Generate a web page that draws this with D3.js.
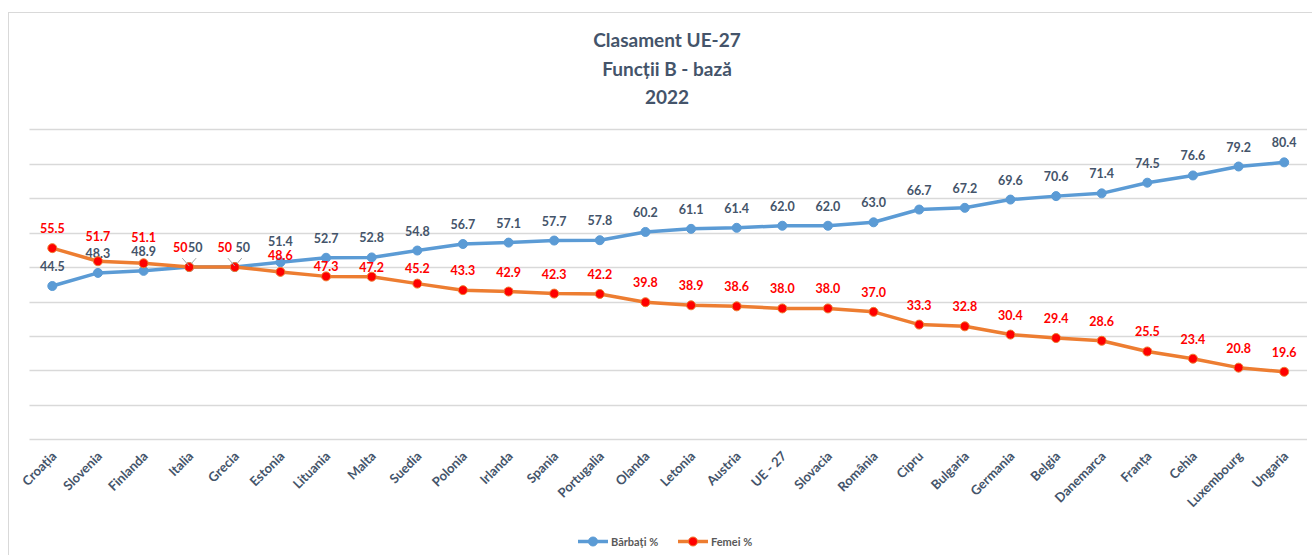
<!DOCTYPE html>
<html>
<head>
<meta charset="utf-8">
<script src="https://cdn.jsdelivr.net/npm/d3@7"></script>
<style>
  body { margin: 0; background: #fff; }
  svg { display: block; font-family: Lato, "Open Sans", sans-serif; }
</style>
</head>
<body>
<svg id="chart" width="1312" height="555"></svg>
<script>
var countries = ["Croația", "Slovenia", "Finlanda", "Italia", "Grecia", "Estonia", "Lituania", "Malta",
  "Suedia", "Polonia", "Irlanda", "Spania", "Portugalia", "Olanda", "Letonia", "Austria", "UE - 27",
  "Slovacia", "România", "Cipru", "Bulgaria", "Germania", "Belgia", "Danemarca", "Franța", "Cehia",
  "Luxembourg", "Ungaria"];
var barbati = [44.5, 48.3, 48.9, 50, 50, 51.4, 52.7, 52.8, 54.8, 56.7, 57.1, 57.7, 57.8, 60.2, 61.1,
  61.4, 62.0, 62.0, 63.0, 66.7, 67.2, 69.6, 70.6, 71.4, 74.5, 76.6, 79.2, 80.4];
var femei = [55.5, 51.7, 51.1, 50, 50, 48.6, 47.3, 47.2, 45.2, 43.3, 42.9, 42.3, 42.2, 39.8, 38.9,
  38.6, 38.0, 38.0, 37.0, 33.3, 32.8, 30.4, 29.4, 28.6, 25.5, 23.4, 20.8, 19.6];
var yTicks = [0, 10, 20, 30, 40, 50, 60, 70, 80, 90];
var titleLines = ["Clasament UE-27", "Funcții B - bază", "2022"];

var svg = d3.select("#chart");

// frame
svg.append("rect")
  .attr("x", 8.5).attr("y", 12.5)
  .attr("width", 1320).attr("height", 560)
  .attr("fill", "none").attr("stroke", "#d9d9d9");

var x = d3.scalePoint().domain(countries).range([29.5, 1307]).padding(0.5);
var y = d3.scaleLinear().domain([0, 90]).range([439.3, 129.3]);

// gridlines
svg.append("g").selectAll("line")
  .data(yTicks)
  .enter().append("line")
  .attr("x1", 29.5).attr("x2", 1307)
  .attr("y1", function(d){ return Math.round(y(d)) + 0.5; })
  .attr("y2", function(d){ return Math.round(y(d)) + 0.5; })
  .attr("stroke", "#d9d9d9").attr("stroke-width", 1.3);

// title
svg.append("text")
  .attr("text-anchor", "middle")
  .attr("fill", "#44546a")
  .style("font-weight", "bold").style("font-size", "19px")
  .selectAll("tspan")
  .data(titleLines)
  .enter().append("tspan")
  .attr("x", 667)
  .attr("y", function(d, i){ return 47 + i * 28.5; })
  .text(function(d){ return d; });

// x axis labels
svg.append("g").selectAll("text")
  .data(countries)
  .enter().append("text")
  .attr("transform", function(d){ return "translate(" + (x(d) + 5) + ",457) rotate(-45)"; })
  .attr("text-anchor", "end")
  .attr("fill", "#44546a")
  .style("font-weight", "bold").style("font-size", "13px")
  .text(function(d){ return d; });

var line = d3.line()
  .x(function(d, i){ return x(countries[i]); })
  .y(function(d){ return y(d); });

function fmt(v){ return v === 50 ? "50" : v.toFixed(1); }

// hand-placed label offsets (like the moved labels in the original chart)
var menNudge = { "Estonia": -1.5 };
var womenNudge = { "Slovenia": -5, "Finlanda": -6.5, "Estonia": 3, "Lituania": 10, "Malta": 10, "Suedia": 4 };

function series(values, lineColor, dotFill, dotStroke, labelColor, side, nudge){
  var g = svg.append("g");
  g.append("path")
    .datum(values)
    .attr("d", line)
    .attr("fill", "none")
    .attr("stroke", lineColor)
    .attr("stroke-width", 3.5)
    .attr("stroke-linejoin", "round");
  g.selectAll("circle")
    .data(values)
    .enter().append("circle")
    .attr("cx", function(d, i){ return x(countries[i]); })
    .attr("cy", function(d){ return y(d); })
    .attr("r", 4.5)
    .attr("fill", dotFill)
    .attr("stroke", dotStroke)
    .attr("stroke-width", 1);
  // leader lines where both series meet
  values.forEach(function(d, i){
    if (barbati[i] === femei[i]) {
      g.append("line")
        .attr("x1", x(countries[i])).attr("y1", y(d) - 1)
        .attr("x2", x(countries[i]) + side * 7).attr("y2", y(d) - 9)
        .attr("stroke", "#a6a6a6").attr("stroke-width", 1);
    }
  });
  g.selectAll("text")
    .data(values)
    .enter().append("text")
    .attr("x", function(d, i){
      var cx = x(countries[i]);
      if (barbati[i] !== femei[i]) return cx;
      return side > 0 ? cx + 6 + (i - 3) * 2 : cx - 9 - (i - 3);
    })
    .attr("y", function(d, i){ return y(d) - 15 + (nudge[countries[i]] || 0); })
    .attr("text-anchor", "middle")
    .attr("fill", labelColor)
    .style("font-weight", "bold").style("font-size", "12.5px")
    .text(fmt);
}

series(barbati, "#5b9bd5", "#5b9bd5", "#5b9bd5", "#44546a", 1, menNudge);
series(femei, "#ed7d31", "#ff0000", "#ed7d31", "#ff0000", -1, womenNudge);

// legend
var legend = [
  { name: "Bărbați %", line: "#5b9bd5", fill: "#5b9bd5", stroke: "#5b9bd5", x: 578 },
  { name: "Femei %", line: "#ed7d31", fill: "#ff0000", stroke: "#ed7d31", x: 678 }
];
var lg = svg.append("g").selectAll("g")
  .data(legend)
  .enter().append("g")
  .attr("transform", function(d){ return "translate(" + d.x + ",541.5)"; });
lg.append("line")
  .attr("x1", 0).attr("x2", 30)
  .attr("stroke", function(d){ return d.line; })
  .attr("stroke-width", 3.5);
lg.append("circle")
  .attr("cx", 15).attr("r", 4.5)
  .attr("fill", function(d){ return d.fill; })
  .attr("stroke", function(d){ return d.stroke; });
lg.append("text")
  .attr("x", 33).attr("y", 4)
  .attr("fill", "#595959")
  .style("font-weight", "bold").style("font-size", "11px")
  .text(function(d){ return d.name; });
</script>
</body>
</html>
